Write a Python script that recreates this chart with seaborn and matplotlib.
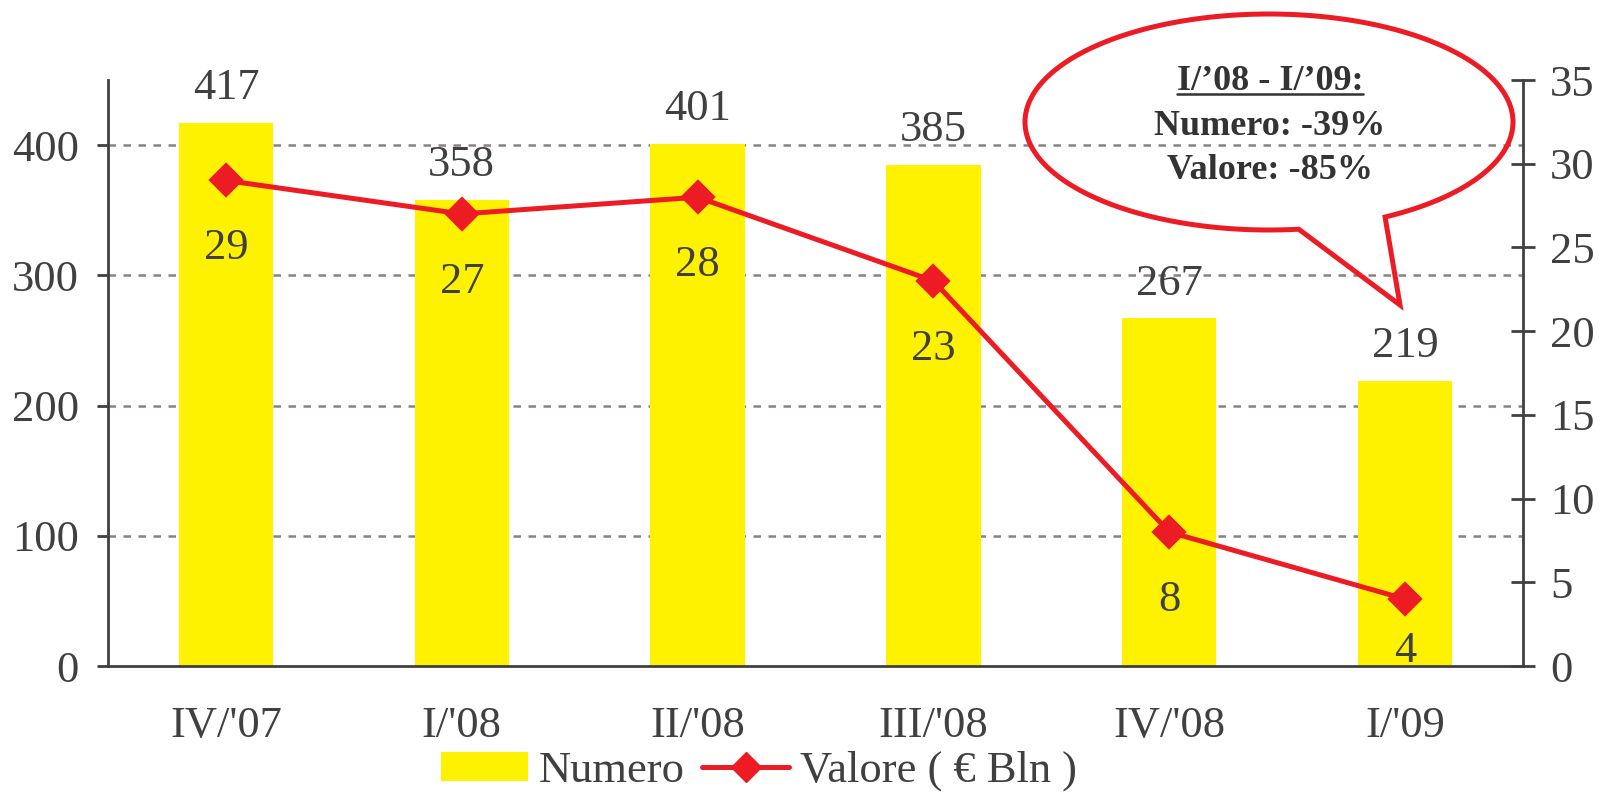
import numpy as np
import matplotlib
matplotlib.use("Agg")
import matplotlib.pyplot as plt
import seaborn as sns
from matplotlib.patches import Patch, Polygon
from matplotlib.lines import Line2D

# --- data ---
quarters = ["IV/'07", "I/'08", "II/'08", "III/'08", "IV/'08", "I/'09"]
numero = [417, 358, 401, 385, 267, 219]
valore = [29, 27, 28, 23, 8, 4]

YELLOW = "#FFF200"
RED = "#ED1C24"
INK = "#404040"
GRID = "#8C8080"

sns.set_style("white")
plt.rcParams["font.family"] = ["Liberation Serif", "DejaVu Serif"]
plt.rcParams["text.color"] = INK
FS = 32

W, H = 1599, 794
fig = plt.figure(figsize=(W / 100, H / 100), dpi=100)
AX_L, AX_R, AX_B, AX_T = 108, 1523, 666, 80
ax = fig.add_axes([AX_L / W, 1 - AX_B / H, (AX_R - AX_L) / W, (AX_B - AX_T) / H])

sns.barplot(x=quarters, y=numero, color=YELLOW, width=0.4, saturation=1,
            edgecolor="none", ax=ax, zorder=2)
ax.set_ylim(0, 450)
ax.set_yticks([0, 100, 200, 300, 400])
ax.set_axisbelow(True)
for v in [100, 200, 300, 400]:
    ax.axhline(v, color=GRID, lw=1.8, ls=(0, (3, 3)), zorder=0)

for i, v in enumerate(numero):
    ax.annotate(str(v), (i, v), xytext=(0, 17), textcoords="offset points",
                ha="center", va="baseline", fontsize=FS, color=INK)

# --- line on secondary axis ---
ax2 = ax.twinx()
sns.pointplot(x=quarters, y=valore, ax=ax2, color=RED, markers="D",
              markersize=15, linewidth=3.6, errorbar=None)
ax2.set_ylim(0, 35)
ax2.set_yticks(range(0, 36, 5))

# x axis: tick marks between categories, labels centred
ax.set_xlim(-0.5, len(quarters) - 0.5)
ax.set_xticks(np.arange(-0.5, len(quarters), 1.0))
ax.set_xticklabels([])
ax.set_xticks(range(len(quarters)), minor=True)
ax.set_xticklabels(quarters, minor=True)
ax.tick_params(axis="x", which="major", direction="out", length=8, width=2, color=INK)
ax.tick_params(axis="x", which="minor", length=0, pad=29, labelsize=FS, labelcolor=INK)
ax.tick_params(axis="y", direction="out", length=8, width=2, color=INK,
               pad=13, labelsize=FS, labelcolor=INK)
ax2.tick_params(axis="y", direction="inout", length=17, width=2, color=INK,
                pad=11, labelsize=FS, labelcolor=INK)
ax.set_xlabel("")
ax.set_ylabel("")
ax2.set_xlabel("")
ax2.set_ylabel("")

# value labels under the line points, kept inside the plot area
for i, v in enumerate(valore):
    px, py = ax2.transData.transform((i, v))
    ly = max(py - 79, (H - AX_B) + 4)
    ax2.annotate(str(v), (px, ly), xycoords="figure pixels",
                 ha="center", va="baseline", fontsize=FS, color=INK, zorder=5)

for s in ["top", "right"]:
    ax.spines[s].set_visible(False)
for s in ["left", "bottom"]:
    ax.spines[s].set_color(INK)
    ax.spines[s].set_linewidth(2)
for s in ["top", "left", "bottom"]:
    ax2.spines[s].set_visible(False)
ax2.spines["right"].set_color(INK)
ax2.spines["right"].set_linewidth(2)

# --- legend ---
handles = [Patch(facecolor=YELLOW, edgecolor="none"),
           Line2D([], [], color=RED, lw=3.6, marker="D", markersize=15)]
fig.legend(handles, ["Numero", "Valore ( € Bln )"], loc="center",
           bbox_to_anchor=(759 / W, 1 - 771 / H), ncol=2, frameon=False,
           fontsize=FS, handlelength=1.95, handleheight=0.63,
           handletextpad=0.25, columnspacing=0.4, labelcolor=INK,
           borderpad=0, borderaxespad=0)

# --- speech bubble ---
cx, cy, a, b = 1269, H - 122, 244, 108
t = np.radians(np.linspace(-61.6, 277, 240))
pts = np.column_stack([cx + a * np.cos(t), cy + b * np.sin(t)])
pts = np.vstack([pts, [1400, H - 305]])
pts[:, 0] /= W
pts[:, 1] /= H
fig.add_artist(Polygon(pts, closed=True, fill=False, edgecolor=RED, lw=3.6,
                       joinstyle="miter", transform=fig.transFigure))

tx = 1270 / W
title = fig.text(tx, 1 - 90 / H, "I/’08 - I/’09:", ha="center", va="baseline",
                 fontsize=26, fontweight="bold", color="#333333")
fig.text(tx, 1 - 135 / H, "Numero: -39%", ha="center", va="baseline",
         fontsize=26, fontweight="bold", color="#333333")
fig.text(tx, 1 - 179 / H, "Valore: -85%", ha="center", va="baseline",
         fontsize=26, fontweight="bold", color="#333333")

fig.canvas.draw()
bb = title.get_window_extent().transformed(fig.transFigure.inverted())
uy = 1 - 94 / H
fig.add_artist(Line2D([bb.x0, bb.x1], [uy, uy],
                      color="#333333", lw=1.8, transform=fig.transFigure))

fig.savefig("out.png", dpi=100)
